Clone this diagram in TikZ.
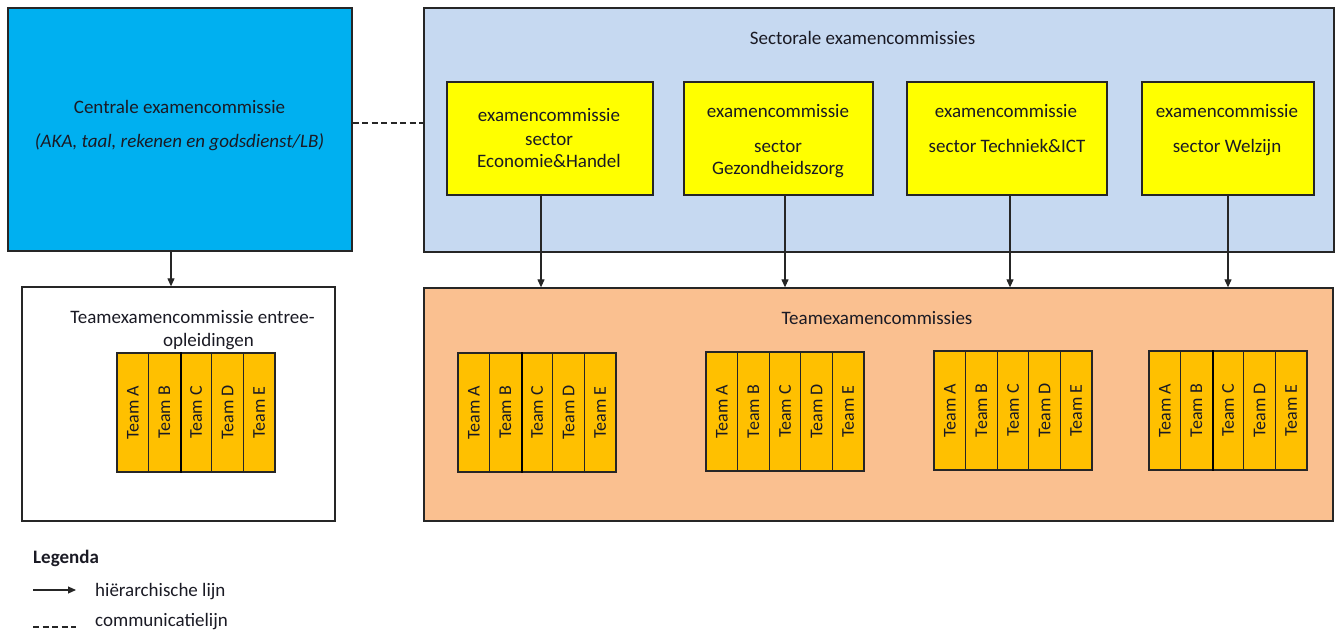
\documentclass[tikz,border=0pt]{standalone}
\usepackage{fontspec}
\setmainfont{Carlito}
\usepackage{graphicx}
\usetikzlibrary{arrows.meta}
\definecolor{cenblue}{HTML}{00B0F0}
\definecolor{secblue}{HTML}{C6D9F1}
\definecolor{secyellow}{HTML}{FFFF00}
\definecolor{teamorange}{HTML}{FAC090}
\definecolor{teamgold}{HTML}{FFC000}
\definecolor{inkc}{HTML}{1A1A24}
\newcommand\teamgroup[4]{%
  \foreach \l [count=\i from 0] in {A,B,C,D,E} {
    \node[teamcol] (#1\l) at ({#2+15.8+31.6*\i},#3) {\rotatebox{90}{Team \l}};
  }
  \ifnum#4=1 \draw[line width=2.4pt, draw=black] (#1B.north east) -- (#1B.south east);\fi
}
\begin{document}
\begin{tikzpicture}[x=1pt,y=-1pt,
  box/.style={draw=black!85, line width=1.3pt, inner sep=0pt, rectangle},
  txt/.style={font=\fontsize{19}{23}\selectfont, text=inkc, inner sep=0pt, anchor=mid, yshift=-4pt},
  teamcol/.style={box, fill=teamgold, line width=1.1pt, minimum width=31.6pt, minimum height=119pt, font=\fontsize{18}{20}\selectfont, text=inkc},
  hier/.style={-{Triangle[length=8pt,width=7pt]}, line width=1.1pt, draw=black!85},
  comm/.style={dash pattern=on 6pt off 3.5pt, line width=1.1pt, draw=black!85}]
\useasboundingbox (0,0) rectangle (1335,634);

% main boxes
\node[box, fill=cenblue, minimum width=344pt, minimum height=243pt] (cen) at (180,129.5) {};
\node[box, fill=secblue, minimum width=910pt, minimum height=244pt] (sec) at (879,130) {};
\node[box, fill=white, minimum width=313pt, minimum height=234pt] (entree) at (178.5,404) {};
\node[box, fill=teamorange, minimum width=909pt, minimum height=233pt] (teams) at (878.5,404.5) {};

% sector boxes
\node[box, fill=secyellow, minimum width=206pt, minimum height=113pt] (y1) at (550,138.5) {};
\node[box, fill=secyellow, minimum width=189pt, minimum height=113pt] (y2) at (778.5,138.5) {};
\node[box, fill=secyellow, minimum width=200pt, minimum height=113pt] (y3) at (1007,138.5) {};
\node[box, fill=secyellow, minimum width=172pt, minimum height=113pt] (y4) at (1228,138.5) {};

% texts
\node[txt] (cen1) at (179.5,107) {Centrale examencommissie};
\node[txt] (cen2) at (179.5,141) {\itshape (AKA, taal, rekenen en godsdienst/LB)};
\node[txt] (sect) at (862.5,38) {Sectorale examencommissies};
\node[txt] (y1a) at (549,115) {examencommissie};
\node[txt] (y1b) at (549,139) {sector};
\node[txt] (y1c) at (549,161) {Economie\&Handel};
\node[txt] (y2a) at (778,111.5) {examencommissie};
\node[txt] (y2b) at (778,146.5) {sector};
\node[txt] (y2c) at (778,168) {Gezondheidszorg};
\node[txt] (y3a) at (1006,111.5) {examencommissie};
\node[txt] (y3b) at (1007,146.5) {sector Techniek\&ICT};
\node[txt] (y4a) at (1227,111.5) {examencommissie};
\node[txt] (y4b) at (1227,146.5) {sector Welzijn};
\node[txt] (ent1) at (192.5,317) {Teamexamencommissie entree-};
\node[txt] (ent2) at (208.5,340.5) {opleidingen};
\node[txt] (tms) at (877,318) {Teamexamencommissies};

% team groups
\teamgroup{g0}{117}{412.5}{1}
\teamgroup{g1}{458}{412.5}{1}
\teamgroup{g2}{706}{411.5}{0}
\teamgroup{g3}{934}{410.5}{0}
\teamgroup{g4}{1149}{410.5}{1}

% connectors
\draw[comm] ([yshift=6.5pt]cen.east) -- ([yshift=6.5pt]cen.east -| sec.west);
\draw[hier] ([xshift=-9pt]cen.south) -- ([xshift=-9pt]cen.south |- entree.north);
\draw[hier] ([xshift=-9pt]y1.south) -- ([xshift=-9pt]y1.south |- teams.north);
\draw[hier] ([xshift=6.5pt]y2.south) -- ([xshift=6.5pt]y2.south |- teams.north);
\draw[hier] ([xshift=3pt]y3.south) -- ([xshift=3pt]y3.south |- teams.north);
\draw[hier] (y4.south) -- (y4.south |- teams.north);

% legend
\node[txt, anchor=mid west, font=\fontsize{19}{23}\selectfont\bfseries] (leg) at (33,557) {Legenda};
\coordinate (la1) at (33,590);
\coordinate (la2) at (76,590);
\coordinate (lc1) at (33,627);
\coordinate (lc2) at (76,627);
\draw[hier] (la1) -- (la2);
\draw[comm] (lc1) -- (lc2);
\node[txt, anchor=mid west] (legh) at (95,590) {hiërarchische lijn};
\node[txt, anchor=mid west] (legc) at (95,620.5) {communicatielijn};
\end{tikzpicture}
\end{document}
